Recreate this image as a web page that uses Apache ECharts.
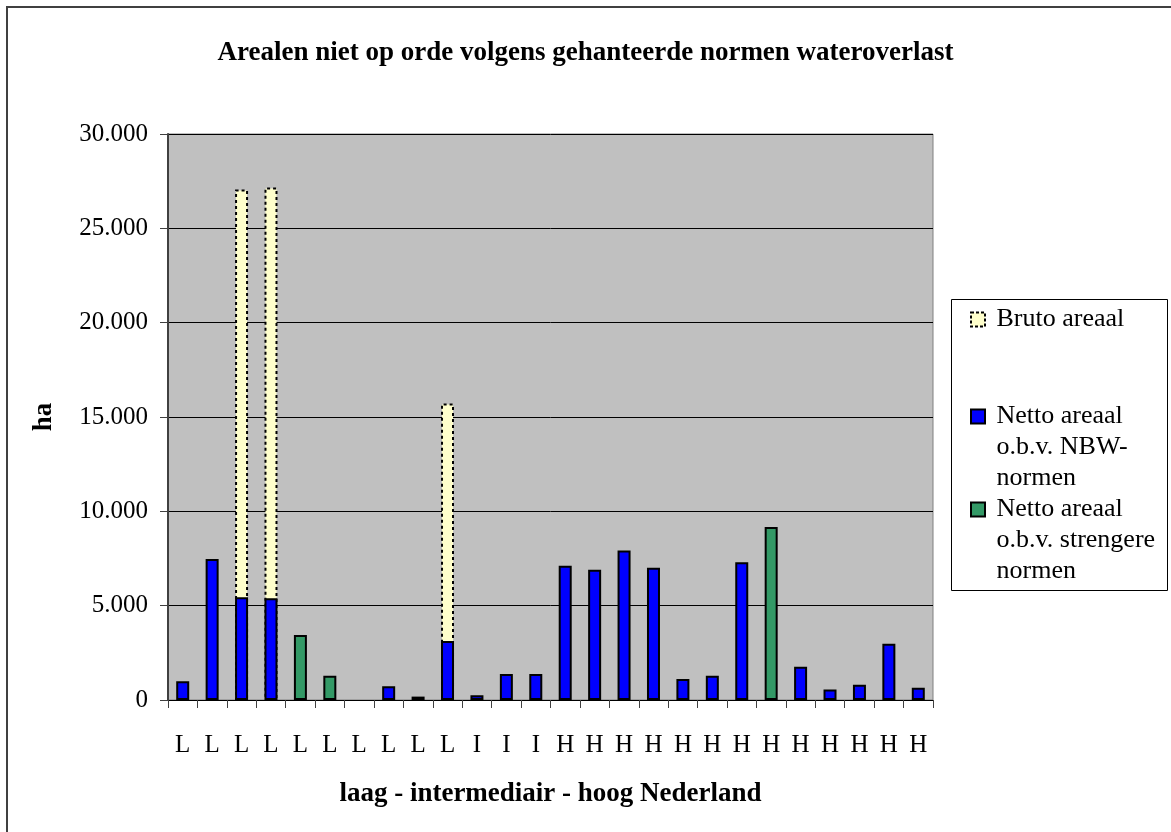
<!DOCTYPE html>
<html>
<head>
<meta charset="utf-8">
<script src="https://cdn.jsdelivr.net/npm/echarts@6/dist/echarts.min.js"></script>
<style>
  html, body { margin: 0; padding: 0; background: #fff; }
  #chart { width: 1171px; height: 832px; }
</style>
</head>
<body>
<div id="chart"></div>
<script>
'use strict'

// categorieen: laag (L), intermediair (I), hoog (H) Nederland
var categories = ['L', 'L', 'L', 'L', 'L', 'L', 'L', 'L', 'L', 'L',
    'I', 'I', 'I',
    'H', 'H', 'H', 'H', 'H', 'H', 'H', 'H', 'H', 'H', 'H', 'H', 'H']

var bruto = [null, null, 27060, 27170, null, null, null, null, null, 15720,
    null, null, null,
    null, null, null, null, null, null, null, null, null, null, null, null, null]

var nettoNBW = [1000, 7470, 5450, 5390, null, null, null, 730, 180, 3130,
    250, 1380, 1380,
    7120, 6900, 7930, 7010, 1110, 1290, 7300, null, 1760, 550, 810, 2980, 650]

var nettoStreng = [null, null, null, null, 3440, 1290, null, null, null, null,
    null, null, null,
    null, null, null, null, null, null, null, 9170, null, null, null, null, null]

var yTicks = [0, 5000, 10000, 15000, 20000, 25000, 30000]

var seriesNames = ['Bruto areaal', 'Netto areaal NBW', 'Netto areaal strenger']
var legendText = {
    'Bruto areaal': ' Bruto areaal',
    'Netto areaal NBW': '\n\n Netto areaal\n o.b.v. NBW-\n normen',
    'Netto areaal strenger': '\n\n Netto areaal\n o.b.v. strengere\n normen'
}

var font = '"Liberation Serif", "Times New Roman", serif'

function fmt(v) {
    // duizendtallen met punt
    return String(v).replace(/\B(?=(\d{3})+(?!\d))/g, '.')
}

var myChart = echarts.init(document.getElementById('chart'))

function legendFor(name, top, dotted) {
    var l = {
        data: [name],
        orient: 'vertical',
        left: 965,
        top: top,
        icon: 'rect',
        itemWidth: 14,
        itemHeight: 14,
        selectedMode: false,
        formatter: function (n) { return legendText[n] },
        textStyle: { fontFamily: font, fontSize: 26, color: '#000', lineHeight: 31 }
    }
    if (dotted) {
        l.itemStyle = { borderType: [3, 2], borderWidth: 2, borderColor: '#000' }
    }
    return l
}

var option = {
    backgroundColor: '#fff',
    animation: false,
    title: {
        text: 'Arealen niet op orde volgens gehanteerde normen wateroverlast',
        left: 'center',
        top: 35,
        textStyle: { fontFamily: font, fontSize: 27, fontWeight: 'bold', color: '#000' }
    },
    legend: [
        legendFor(seriesNames[0], 299, true),
        legendFor(seriesNames[1], 334),
        legendFor(seriesNames[2], 427)
    ],
    graphic: [
        {
            type: 'rect',
            shape: { x: 7, y: 7, width: 1180, height: 840 },
            style: { fill: 'none', stroke: '#404040', lineWidth: 2 },
            silent: true
        },
        {
            type: 'rect',
            shape: { x: 951.5, y: 299.5, width: 216, height: 291 },
            style: { fill: 'none', stroke: '#000', lineWidth: 1 },
            silent: true
        }
    ],
    grid: {
        left: 168,
        top: 134,
        right: 238,
        bottom: 132,
        show: true,
        backgroundColor: '#C0C0C0',
        borderColor: '#808080',
        borderWidth: 1
    },
    xAxis: {
        type: 'category',
        data: categories,
        name: 'laag - intermediair - hoog Nederland',
        nameLocation: 'middle',
        nameGap: 81,
        nameTextStyle: { fontFamily: font, fontSize: 27, fontWeight: 'bold', color: '#000' },
        axisLine: { lineStyle: { color: '#000', width: 1 } },
        axisTick: { show: true, length: 8, lineStyle: { color: '#404040' } },
        axisLabel: { fontFamily: font, fontSize: 25, color: '#000', margin: 33, interval: 0 },
        splitLine: { show: false }
    },
    yAxis: {
        type: 'value',
        min: yTicks[0],
        max: yTicks[yTicks.length - 1],
        interval: yTicks[1] - yTicks[0],
        name: 'ha',
        nameLocation: 'middle',
        nameGap: 110,
        nameRotate: 90,
        nameTextStyle: { fontFamily: font, fontSize: 27, fontWeight: 'bold', color: '#000' },
        axisLine: { show: true, lineStyle: { color: '#404040', width: 2 } },
        axisTick: { show: true, length: 8, lineStyle: { color: '#404040' } },
        axisLabel: { fontFamily: font, fontSize: 25, color: '#000', margin: 20, formatter: fmt },
        splitLine: { show: true, lineStyle: { color: '#000', width: 1 } }
    },
    series: [
        {
            name: seriesNames[0],
            type: 'bar',
            data: bruto,
            barWidth: 13,
            barGap: '-100%',
            itemStyle: { color: '#FFFFCC', borderColor: '#000', borderWidth: 2, borderType: [3, 3] }
        },
        {
            name: seriesNames[1],
            type: 'bar',
            data: nettoNBW,
            barWidth: 13,
            barGap: '-100%',
            itemStyle: { color: '#0000FF', borderColor: '#000', borderWidth: 2 }
        },
        {
            name: seriesNames[2],
            type: 'bar',
            data: nettoStreng,
            barWidth: 13,
            barGap: '-100%',
            itemStyle: { color: '#339966', borderColor: '#000', borderWidth: 2 }
        }
    ]
}

myChart.setOption(option)
</script>
</body>
</html>
